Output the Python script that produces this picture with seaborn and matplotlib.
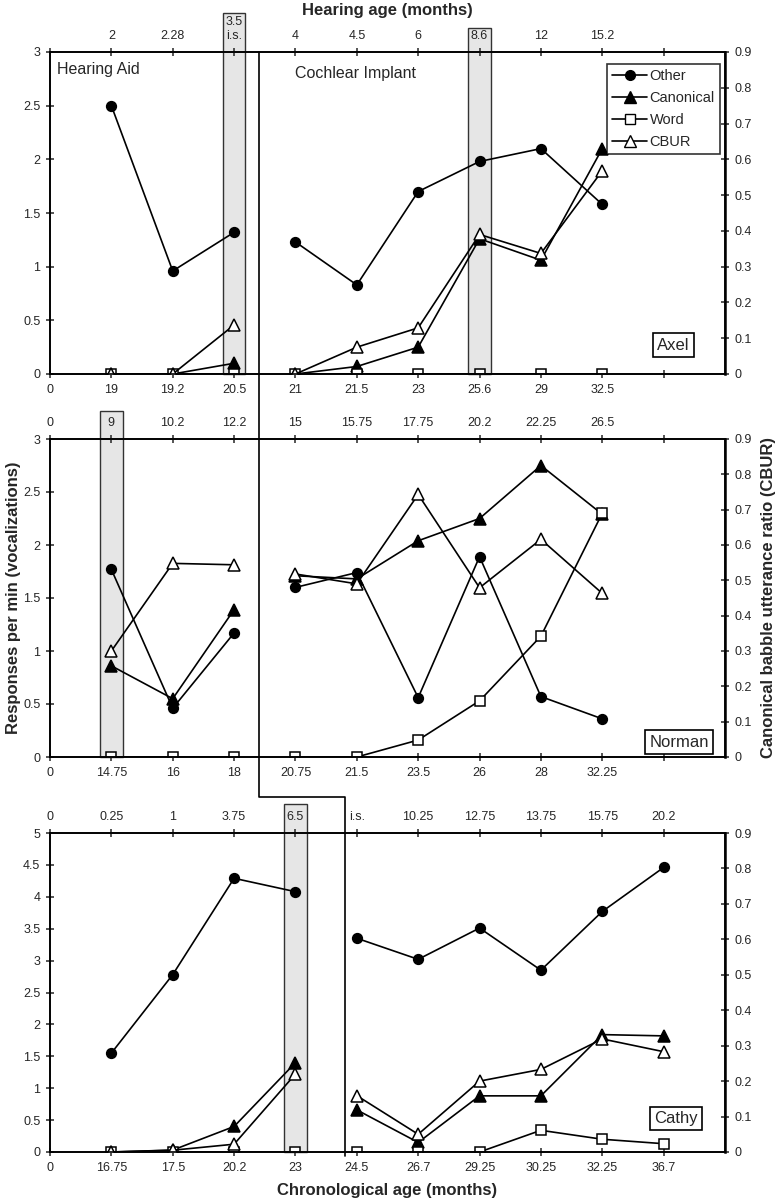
import matplotlib
matplotlib.use("Agg")
import matplotlib.pyplot as plt
import seaborn as sns
from matplotlib.lines import Line2D
from matplotlib.patches import Rectangle
import matplotlib.transforms as mtransforms

# ---- data ----
axel_pos = [1, 2, 3, 4, 5, 6, 7, 8, 9]
axel_other = [2.5, 0.96, 1.32, 1.23, 0.83, 1.70, 1.98, 2.10, 1.58]
axel_canon = [0, 0, 0.10, 0, 0.07, 0.25, 1.26, 1.06, 2.10]
axel_word = [0, 0, 0, 0, 0, 0, 0, 0, 0]
axel_cbur = [0, 0, 0.137, 0, 0.075, 0.129, 0.39, 0.337, 0.568]
axel_chrono = ["0", "19", "19.2", "20.5", "21", "21.5", "23", "25.6", "29", "32.5", ""]
axel_hearing = ["", "2", "2.28", "3.5\ni.s.", "4", "4.5", "6", "8.6", "12", "15.2", ""]

norman_pos = [1, 2, 3, 4, 5, 6, 7, 8, 9]
norman_other = [1.77, 0.46, 1.17, 1.60, 1.74, 0.56, 1.89, 0.57, 0.36]
norman_canon = [0.86, 0.55, 1.39, 1.71, 1.68, 2.04, 2.25, 2.75, 2.29]
norman_word = [0, 0, 0, 0, 0, 0.16, 0.53, 1.14, 2.30]
norman_cbur = [0.30, 0.548, 0.544, 0.518, 0.49, 0.743, 0.479, 0.616, 0.463]
norman_chrono = ["0", "14.75", "16", "18", "20.75", "21.5", "23.5", "26", "28", "32.25", ""]
norman_hearing = ["0", "9", "10.2", "12.2", "15", "15.75", "17.75", "20.2", "22.25", "26.5", ""]

cathy_pos = [1, 2, 3, 4, 5, 6, 7, 8, 9, 10]
cathy_other = [1.55, 2.78, 4.29, 4.08, 3.35, 3.02, 3.51, 2.85, 3.77, 4.46]
cathy_canon = [0, 0.03, 0.40, 1.40, 0.66, 0.15, 0.88, 0.88, 1.84, 1.82]
cathy_word = [0, 0, 0, 0, 0, 0, 0, 0.34, 0.20, 0.13]
cathy_cbur = [0, 0.005, 0.022, 0.22, 0.159, 0.05, 0.20, 0.233, 0.319, 0.283]
cathy_chrono = ["0", "16.75", "17.5", "20.2", "23", "24.5", "26.7", "29.25", "30.25", "32.25", "36.7"]
cathy_hearing = ["0", "0.25", "1", "3.75", "6.5", "i.s.", "10.25", "12.75", "13.75", "15.75", "20.2"]

# number of hearing-aid sessions per child (lines break after these)
axel_n_ha = 3
norman_n_ha = 3
cathy_n_ha = 4

# sessions highlighted with grey boxes
axel_marked = [3, 7]
norman_marked = [1]
cathy_marked = [4]

STYLES = {
    "Other": dict(marker="o", markerfacecolor="black", markersize=7),
    "Canonical": dict(marker="^", markerfacecolor="black", markersize=8),
    "Word": dict(marker="s", markerfacecolor="white", markersize=7),
    "CBUR": dict(marker="^", markerfacecolor="white", markersize=8.5),
}


def draw_series(ax, pos, vals, n_ha, name):
    st = STYLES[name]
    for seg in (slice(0, n_ha), slice(n_ha, None)):
        sns.lineplot(x=pos[seg], y=vals[seg], ax=ax, color="black", linewidth=1.2,
                     marker=st["marker"], markersize=st["markersize"],
                     markerfacecolor=st["markerfacecolor"], markeredgecolor="black",
                     markeredgewidth=1.1, sort=False, estimator=None)


def panel(rect, ymax, ystep, pos, other, canon, word, cbur, n_ha, chrono, hearing,
          marked, box_top, name, name_xy):
    ax = fig.add_axes(rect)
    ax.set_xlim(0, 11)
    ax.set_ylim(0, ymax)
    ticks_y = [i * ystep for i in range(int(round(ymax / ystep)) + 1)]
    ax.set_yticks(ticks_y)
    ax.set_yticklabels([f"{t:g}" for t in ticks_y])
    ax.set_xticks(range(11))
    ax.set_xticklabels(chrono)
    ax.tick_params(axis="both", direction="inout", length=6, width=1.1,
                   labelsize=9, pad=4)

    trans = mtransforms.blended_transform_factory(ax.transData, ax.transAxes)
    for k in marked:
        ax.add_patch(Rectangle((k - 0.185, 0), 0.37, box_top, transform=trans,
                               facecolor="#e6e6e6", edgecolor="#333333", lw=1.0,
                               clip_on=False, zorder=0.5))

    draw_series(ax, pos, other, n_ha, "Other")
    draw_series(ax, pos, canon, n_ha, "Canonical")
    draw_series(ax, pos, word, n_ha, "Word")
    ax.set_xlabel("")
    ax.set_ylabel("")

    ax2 = ax.twinx()
    ax2.set_ylim(0, 0.9)
    ax2.set_yticks([i / 10 for i in range(10)])
    ax2.set_yticklabels([f"{i / 10:g}" for i in range(10)])
    ax2.tick_params(axis="y", direction="inout", length=6, width=1.1, labelsize=9, pad=4)
    draw_series(ax2, pos, cbur, n_ha, "CBUR")
    ax2.set_ylabel("")

    top = ax.secondary_xaxis("top")
    top.set_zorder(5)
    top.set_xticks(range(11))
    top.set_xticklabels(hearing)
    top.tick_params(direction="inout", length=6, width=1.1, labelsize=9, pad=4)

    for a in (ax, ax2):
        for s in a.spines.values():
            s.set_visible(True)
            s.set_linewidth(1.2)
            s.set_color("black")
    ax2.spines["right"].set_linewidth(1.8)
    top.spines["top"].set_linewidth(1.2)

    ax2.text(name_xy[0], name_xy[1], name, transform=ax.transAxes, fontsize=12,
             ha="center", va="center", zorder=5,
             bbox=dict(boxstyle="square,pad=0.25", facecolor="white",
                       edgecolor="black", lw=1.2))
    return ax, ax2


sns.set_theme(style="ticks")
plt.rcParams["font.family"] = ["Liberation Sans", "DejaVu Sans"]

fig = plt.figure(figsize=(7.82, 12), dpi=100)

L, W = 50 / 782, 675 / 782
ax_a, ax_a2 = panel([L, 1 - 374 / 1200, W, 322 / 1200], 3, 0.5, axel_pos, axel_other,
                    axel_canon, axel_word, axel_cbur, axel_n_ha, axel_chrono,
                    axel_hearing, axel_marked, 1.12, "Axel", (0.924, 0.09))
ax_n, ax_n2 = panel([L, 1 - 757 / 1200, W, 318 / 1200], 3, 0.5, norman_pos, norman_other,
                    norman_canon, norman_word, norman_cbur, norman_n_ha, norman_chrono,
                    norman_hearing, norman_marked, 1.088, "Norman", (0.932, 0.047))
ax_c, ax_c2 = panel([L, 1 - 1152 / 1200, W, 319 / 1200], 5, 0.5, cathy_pos, cathy_other,
                    cathy_canon, cathy_word, cathy_cbur, cathy_n_ha, cathy_chrono,
                    cathy_hearing, cathy_marked, 1.09, "Cathy", (0.927, 0.105))

# the 8.6 box in Axel's panel is a bit shorter
for p in ax_a.patches:
    if p.get_x() > 5:
        p.set_height(1.075)

ax_a.text(0.01, 0.97, "Hearing Aid", transform=ax_a.transAxes, fontsize=11.5,
          ha="left", va="top")
ax_a.text(0.363, 0.955, "Cochlear Implant", transform=ax_a.transAxes, fontsize=11.5,
          ha="left", va="top")

handles = [Line2D([], [], color="black", lw=1.2, marker=STYLES[n]["marker"],
                  markersize=STYLES[n]["markersize"],
                  markerfacecolor=STYLES[n]["markerfacecolor"],
                  markeredgecolor="black", label=n)
           for n in ["Other", "Canonical", "Word", "CBUR"]]
leg = ax_a2.legend(handles=handles, loc="upper right", bbox_to_anchor=(0.9926, 0.963),
                   borderaxespad=0, fontsize=10.5, frameon=True, fancybox=False,
                   edgecolor="black", handlelength=2.4, handletextpad=0.15,
                   labelspacing=0.55, borderpad=0.35)
leg.get_frame().set_linewidth(1.2)

# hearing aid / cochlear implant divider running through all panels
split_top = 3.4
split_bottom = 4.8
xs1 = L + W * split_top / 11
xs2 = L + W * split_bottom / 11
y_step = 1 - 797 / 1200
fig.add_artist(Line2D([xs1, xs1, xs2, xs2],
                      [1 - 52 / 1200, y_step, y_step, 1 - 1156 / 1200],
                      transform=fig.transFigure, color="black", lw=1.2))

fig.text(L + W / 2, 1 - 10 / 1200, "Hearing age (months)", ha="center", va="center",
         fontsize=12, fontweight="bold")
fig.text(L + W / 2, 1 - 1190 / 1200, "Chronological age (months)", ha="center",
         va="center", fontsize=12, fontweight="bold")
fig.text(14 / 782, 1 - 598 / 1200, "Responses per min (vocalizations)", rotation=90,
         ha="center", va="center", fontsize=12, fontweight="bold")
fig.text(769 / 782, 1 - 598 / 1200, "Canonical babble utterance ratio (CBUR)",
         rotation=90, ha="center", va="center", fontsize=12, fontweight="bold")

fig.savefig("out.png", dpi=100)
